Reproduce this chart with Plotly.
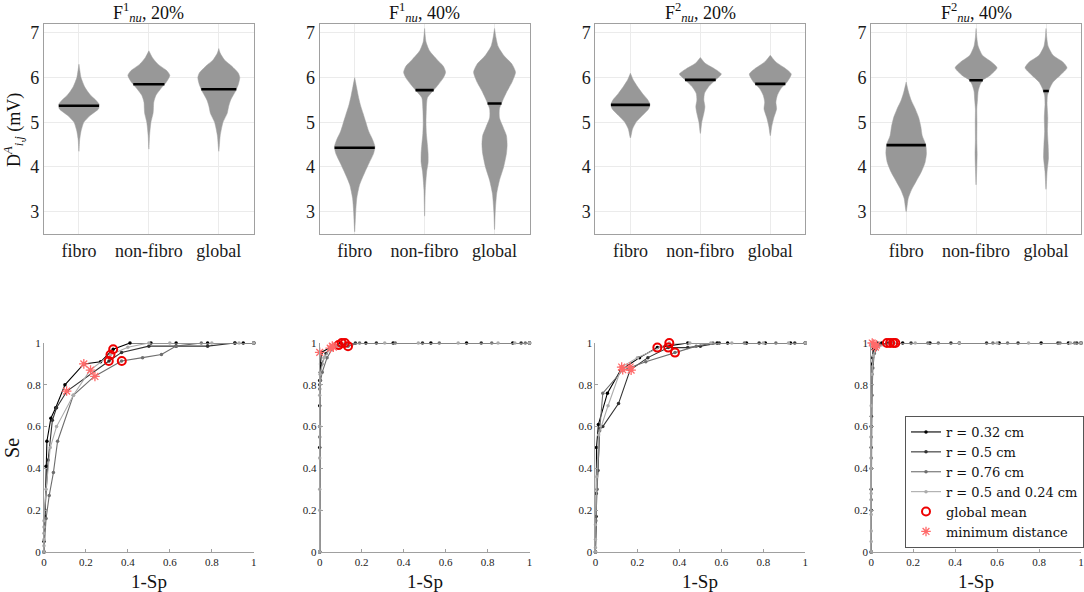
import numpy as np
import plotly.graph_objects as go
from plotly.subplots import make_subplots

W, H = 1084, 592

categories = ["fibro", "non-fibro", "global"]
titles = ["F<sup>1</sup><sub><i>nu</i></sub>, 20%", "F<sup>1</sup><sub><i>nu</i></sub>, 40%",
          "F<sup>2</sup><sub><i>nu</i></sub>, 20%", "F<sup>2</sup><sub><i>nu</i></sub>, 40%"]
series_names = ["r = 0.32 cm", "r = 0.5 cm", "r = 0.76 cm", "r = 0.5 and 0.24 cm"]
series_colors = ["#000000", "#333333", "#6e6e6e", "#ababab"]

# violin outlines: levels (mV) and half widths (category units)
# order in each list: fibro, non-fibro, global
f1_20_lev = [[4.35, 4.6, 4.8, 5.0, 5.15, 5.3, 5.4, 5.5, 5.6, 5.7, 5.8, 6.0, 6.3],
             [4.4, 4.7, 5.0, 5.2, 5.3, 5.45, 5.6, 5.75, 5.9, 6.05, 6.15, 6.3, 6.45, 6.6],
             [4.35, 4.7, 5.0, 5.2, 5.35, 5.5, 5.7, 5.85, 6.0, 6.1, 6.25, 6.4, 6.55, 6.65]]
f1_20_wid = [[0, 0.01, 0.03, 0.07, 0.16, 0.28, 0.29, 0.24, 0.17, 0.12, 0.08, 0.03, 0],
             [0, 0.01, 0.03, 0.06, 0.065, 0.07, 0.1, 0.17, 0.25, 0.3, 0.26, 0.13, 0.05, 0],
             [0, 0.02, 0.06, 0.12, 0.14, 0.17, 0.24, 0.28, 0.3, 0.28, 0.19, 0.08, 0.02, 0]]
f1_20_med = [5.37, 5.85, 5.74]

f1_40_lev = [[2.55, 3.0, 3.3, 3.6, 3.9, 4.1, 4.3, 4.45, 4.6, 4.8, 5.0, 5.2, 5.4, 5.6, 5.8, 6.0],
             [2.9, 3.5, 3.9, 4.1, 4.3, 4.5, 4.75, 5.0, 5.3, 5.55, 5.72, 5.85, 6.0, 6.12, 6.25, 6.4, 6.6, 6.8, 7.1],
             [2.6, 3.0, 3.4, 3.7, 4.0, 4.3, 4.5, 4.7, 4.9, 5.1, 5.3, 5.5, 5.7, 5.9, 6.12, 6.3, 6.5, 6.7, 6.9, 7.1]]
f1_40_wid = [[0, 0.015, 0.03, 0.07, 0.15, 0.21, 0.27, 0.29, 0.26, 0.2, 0.16, 0.12, 0.08, 0.05, 0.025, 0],
             [0, 0.01, 0.03, 0.05, 0.05, 0.04, 0.025, 0.02, 0.025, 0.04, 0.13, 0.2, 0.27, 0.3, 0.27, 0.18, 0.07, 0.02, 0],
             [0, 0.01, 0.03, 0.07, 0.13, 0.17, 0.18, 0.17, 0.12, 0.07, 0.07, 0.12, 0.18, 0.25, 0.3, 0.25, 0.13, 0.05, 0.02, 0]]
f1_40_med = [4.43, 5.72, 5.42]

f2_20_lev = [[4.65, 4.85, 5.0, 5.15, 5.3, 5.4, 5.5, 5.65, 5.8, 5.95, 6.1],
             [4.75, 5.0, 5.2, 5.35, 5.5, 5.65, 5.8, 5.95, 6.08, 6.2, 6.32, 6.45],
             [4.7, 4.9, 5.1, 5.3, 5.45, 5.6, 5.75, 5.9, 6.08, 6.2, 6.35, 6.5]]
f2_20_wid = [[0, 0.03, 0.08, 0.17, 0.26, 0.28, 0.25, 0.17, 0.1, 0.04, 0],
             [0, 0.02, 0.05, 0.065, 0.05, 0.06, 0.12, 0.22, 0.3, 0.2, 0.07, 0],
             [0, 0.02, 0.05, 0.09, 0.08, 0.1, 0.15, 0.24, 0.3, 0.22, 0.08, 0]]
f2_20_med = [5.39, 5.95, 5.86]

f2_40_lev = [[3.0, 3.3, 3.5, 3.7, 3.9, 4.1, 4.3, 4.5, 4.7, 4.9, 5.1, 5.3, 5.5, 5.7, 5.9],
             [3.6, 4.0, 4.3, 4.6, 5.0, 5.3, 5.5, 5.7, 5.85, 5.95, 6.05, 6.22, 6.35, 6.5, 6.7, 6.9, 7.1],
             [3.5, 3.9, 4.2, 4.5, 4.8, 5.1, 5.4, 5.6, 5.75, 5.9, 6.05, 6.22, 6.35, 6.5, 6.7, 6.9, 7.1]]
f2_40_wid = [[0, 0.03, 0.08, 0.15, 0.22, 0.27, 0.29, 0.28, 0.23, 0.21, 0.18, 0.13, 0.07, 0.03, 0],
             [0, 0.01, 0.015, 0.01, 0.012, 0.01, 0.02, 0.03, 0.06, 0.1, 0.2, 0.3, 0.22, 0.09, 0.03, 0.01, 0],
             [0, 0.015, 0.035, 0.03, 0.02, 0.025, 0.015, 0.02, 0.05, 0.1, 0.2, 0.3, 0.24, 0.1, 0.03, 0.01, 0]]
f2_40_med = [4.49, 5.94, 5.70]

violin_levels = [f1_20_lev, f1_40_lev, f2_20_lev, f2_40_lev]
violin_widths = [f1_20_wid, f1_40_wid, f2_20_wid, f2_40_wid]
violin_medians = [f1_20_med, f1_40_med, f2_20_med, f2_40_med]

# ROC curves (1-Sp, Se), one list per radius
roc1_x = [[0, 0, 0.005, 0.01, 0.014, 0.033, 0.056, 0.10, 0.19, 0.27, 0.33, 0.41, 0.51, 0.63, 0.78, 0.91, 0.95, 1.0],
          [0, 0.005, 0.02, 0.04, 0.06, 0.11, 0.31, 0.37, 0.5, 0.63, 0.78, 0.91, 1.0],
          [0, 0.01, 0.025, 0.045, 0.065, 0.14, 0.24, 0.37, 0.47, 0.56, 0.63, 0.75, 1.0],
          [0, 0, 0, 0, 0, 0, 0.01, 0.03, 0.06, 0.14, 0.22, 0.317, 0.40, 0.5, 0.6, 0.8, 0.93, 1.0]]
roc1_y = [[0, 0.05, 0.17, 0.41, 0.53, 0.64, 0.69, 0.80, 0.90, 0.91, 0.97, 1.0, 1.0, 1.0, 1.0, 1.0, 1.0, 1.0],
          [0, 0.2, 0.44, 0.63, 0.69, 0.77, 0.914, 0.955, 0.985, 0.985, 0.985, 1.0, 1.0],
          [0, 0.16, 0.27, 0.38, 0.53, 0.75, 0.84, 0.914, 0.93, 0.945, 0.985, 1.0, 1.0],
          [0, 0.03, 0.06, 0.09, 0.12, 0.15, 0.3, 0.5, 0.6, 0.75, 0.87, 0.944, 0.98, 1.0, 1.0, 1.0, 1.0, 1.0]]
roc1_mean_x = [0.33, 0.317, 0.309, 0.371]
roc1_mean_y = [0.97, 0.944, 0.914, 0.914]
roc1_min_x = [0.19, 0.108, 0.222, 0.243]
roc1_min_y = [0.90, 0.77, 0.87, 0.84]

roc2_x = [[0, 0, 0, 0, 0.004, 0.008, 0.06, 0.10, 0.22, 0.35, 0.53, 0.70, 0.92, 1.0],
          [0, 0, 0, 0.003, 0.01, 0.03, 0.05, 0.09, 0.17, 0.27, 0.49, 0.77, 0.96, 1.0],
          [0, 0, 0, 0.004, 0.012, 0.035, 0.065, 0.135, 0.19, 0.36, 0.57, 0.82, 0.98, 1.0],
          [0, 0, 0, 0, 0, 0, 0.002, 0.02, 0.06, 0.12, 0.31, 0.47, 0.66, 0.85, 0.93, 1.0]]
roc2_y = [[0, 0.5, 0.7, 0.82, 0.9, 0.955, 0.985, 1, 1, 1, 1, 1, 1, 1],
          [0, 0.6, 0.8, 0.86, 0.9, 0.95, 0.975, 0.99, 1, 1, 1, 1, 1, 1],
          [0, 0.55, 0.78, 0.82, 0.86, 0.93, 0.98, 0.985, 1, 1, 1, 1, 1, 1],
          [0, 0.2, 0.3, 0.45, 0.6, 0.75, 0.85, 0.93, 0.985, 1, 1, 1, 1, 1, 1, 1]]
roc2_mean_x = [0.09, 0.105, 0.12, 0.135]
roc2_mean_y = [0.99, 1.0, 1.0, 0.985]
roc2_min_x = [0.0, 0.05, 0.06, 0.065]
roc2_min_y = [0.955, 0.975, 0.985, 0.98]

roc3_x = [[0, 0.003, 0.005, 0.014, 0.057, 0.12, 0.21, 0.295, 0.44, 0.58, 0.63, 0.72, 0.81, 0.93, 1.0],
          [0, 0.004, 0.012, 0.02, 0.035, 0.11, 0.165, 0.25, 0.347, 0.44, 0.5, 0.59, 0.78, 0.95, 1.0],
          [0, 0.002, 0.008, 0.02, 0.035, 0.13, 0.24, 0.379, 0.48, 0.56, 0.71, 0.86, 1.0],
          [0, 0, 0, 0, 0.006, 0.015, 0.06, 0.125, 0.2, 0.352, 0.45, 0.55, 0.65, 0.8, 0.92, 1.0]]
roc3_y = [[0, 0.17, 0.5, 0.61, 0.76, 0.87, 0.93, 0.978, 1, 1, 1, 1, 1, 1, 1],
          [0, 0.28, 0.39, 0.59, 0.6, 0.71, 0.87, 0.93, 0.978, 0.978, 0.985, 1, 1, 1, 1],
          [0, 0.15, 0.3, 0.58, 0.76, 0.87, 0.91, 0.954, 0.985, 1, 1, 1, 1],
          [0, 0.02, 0.06, 0.13, 0.36, 0.56, 0.7, 0.885, 0.93, 1.0, 1, 1, 1, 1, 1, 1]]
roc3_mean_x = [0.295, 0.352, 0.347, 0.379]
roc3_mean_y = [0.978, 1.0, 0.978, 0.954]
roc3_min_x = [0.125, 0.13, 0.165, 0.17]
roc3_min_y = [0.885, 0.872, 0.885, 0.87]

roc4_x = [[0, 0, 0, 0, 0.002, 0.005, 0.01, 0.02, 0.05, 0.15, 0.28, 0.42, 0.61, 0.81, 0.94, 1.0],
          [0, 0, 0, 0.001, 0.003, 0.006, 0.012, 0.03, 0.08, 0.19, 0.38, 0.55, 0.70, 0.89, 0.98, 1.0],
          [0, 0, 0, 0, 0.004, 0.008, 0.015, 0.04, 0.1, 0.27, 0.32, 0.58, 0.65, 0.90, 0.97, 1.0],
          [0, 0, 0, 0, 0, 0, 0, 0.003, 0.01, 0.025, 0.11, 0.21, 0.42, 0.60, 0.75, 0.95, 1.0]]
roc4_y = [[0, 0.2, 0.4, 0.6, 0.8, 0.9, 0.97, 0.99, 1, 1, 1, 1, 1, 1, 1, 1],
          [0, 0.3, 0.5, 0.65, 0.85, 0.93, 0.98, 1, 1, 1, 1, 1, 1, 1, 1, 1],
          [0, 0.25, 0.45, 0.55, 0.75, 0.88, 0.95, 0.99, 1, 1, 1, 1, 1, 1, 1, 1],
          [0, 0.05, 0.1, 0.18, 0.28, 0.4, 0.7, 0.85, 0.94, 0.98, 1, 1, 1, 1, 1, 1, 1]]
roc4_mean_x = [0.075, 0.09, 0.105, 0.115]
roc4_mean_y = [1.0, 1.0, 1.0, 1.0]
roc4_min_x = [0.005, 0.012, 0.02, 0.025]
roc4_min_y = [1.0, 0.995, 0.98, 0.99]

roc_x = [roc1_x, roc2_x, roc3_x, roc4_x]
roc_y = [roc1_y, roc2_y, roc3_y, roc4_y]
mean_x = [roc1_mean_x, roc2_mean_x, roc3_mean_x, roc4_mean_x]
mean_y = [roc1_mean_y, roc2_mean_y, roc3_mean_y, roc4_mean_y]
min_x = [roc1_min_x, roc2_min_x, roc3_min_x, roc4_min_x]
min_y = [roc1_min_y, roc2_min_y, roc3_min_y, roc4_min_y]

FONT = "Liberation Serif"


def px_x(p):
    return p / W


def px_y(p):
    return 1 - p / H


fig = make_subplots(rows=2, cols=4)

# pixel layout of the axes boxes
lefts = [44, 320, 596, 872]
pw = 210
top_row = (24, 234)
bot_row = (343, 552)

for k in range(4):
    # violins
    for c in range(3):
        lev = np.array(violin_levels[k][c])
        wid = np.array(violin_widths[k][c])
        pos = c + 1
        fig.add_trace(go.Scatter(
            x=np.concatenate([pos + wid, (pos - wid)[::-1]]),
            y=np.concatenate([lev, lev[::-1]]),
            fill="toself", fillcolor="rgb(152,152,152)",
            line=dict(color="rgb(160,160,160)", width=0.5, shape="spline", smoothing=0.6),
            mode="lines", showlegend=False, hoverinfo="skip"), row=1, col=k + 1)
        m = violin_medians[k][c]
        hw = float(np.interp(m, lev, wid))
        fig.add_trace(go.Scatter(x=[pos - hw, pos + hw], y=[m, m], mode="lines",
                                 line=dict(color="black", width=2.6),
                                 showlegend=False), row=1, col=k + 1)

    # ROC
    show = (k == 3)
    for s in range(4):
        fig.add_trace(go.Scatter(
            x=roc_x[k][s], y=roc_y[k][s], mode="lines+markers", name=series_names[s],
            line=dict(color=series_colors[s], width=1.1),
            marker=dict(color=series_colors[s], size=3.5),
            cliponaxis=False, showlegend=show), row=2, col=k + 1)
    fig.add_trace(go.Scatter(
        x=mean_x[k], y=mean_y[k], mode="markers", name="global mean",
        marker=dict(symbol="circle-open", color="#ee0000", size=8, line=dict(width=2)),
        cliponaxis=False, showlegend=show), row=2, col=k + 1)
    fig.add_trace(go.Scatter(
        x=min_x[k], y=min_y[k], mode="markers", name="minimum distance",
        marker=dict(symbol="asterisk-open", color="#ff6a6a", size=8, line=dict(width=1.3, color="#ff6a6a")),
        cliponaxis=False, showlegend=show), row=2, col=k + 1)

layout = {}
for k in range(4):
    xd = [px_x(lefts[k]), px_x(lefts[k] + pw)]
    # top row axes
    layout[f"xaxis{k + 1}"] = dict(
        domain=xd, range=[0.5, 3.5], tickvals=[1, 2, 3], ticktext=categories,
        showgrid=True, gridcolor="#ebebeb", showline=True, mirror=True,
        linecolor="#a0a0a0", linewidth=1, zeroline=False, ticks="", automargin=False,
        tickfont=dict(family=FONT, size=18, color="#1a1a1a"))
    layout[f"yaxis{k + 1}"] = dict(
        domain=[px_y(top_row[1]), px_y(top_row[0])], range=[2.5, 7.2],
        tickvals=[3, 4, 5, 6, 7], showgrid=True, gridcolor="#ebebeb",
        showline=True, mirror=True, linecolor="#a0a0a0", linewidth=1, automargin=False,
        zeroline=False, ticks="", tickfont=dict(family=FONT, size=18, color="#1a1a1a"))
    # bottom row axes
    layout[f"xaxis{k + 5}"] = dict(
        domain=xd, range=[0, 1], tickvals=[0, 0.2, 0.4, 0.6, 0.8, 1],
        showgrid=False, zeroline=False, showline=True, linecolor="#a0a0a0",
        ticks="inside", ticklen=3, tickcolor="#a0a0a0", automargin=False,
        tickfont=dict(family=FONT, size=11, color="#222"))
    layout[f"yaxis{k + 5}"] = dict(
        domain=[px_y(bot_row[1]), px_y(bot_row[0])], range=[0, 1],
        tickvals=[0, 0.2, 0.4, 0.6, 0.8, 1], showgrid=False, zeroline=False,
        showline=True, linecolor="#a0a0a0", ticks="inside", ticklen=3, automargin=False,
        tickcolor="#a0a0a0", tickfont=dict(family=FONT, size=11, color="#222"))

annotations = []
for k in range(4):
    cx = px_x(lefts[k] + pw / 2)
    annotations.append(dict(text=titles[k], x=cx, y=px_y(13), xref="paper", yref="paper",
                            xanchor="center", yanchor="middle", showarrow=False,
                            font=dict(family=FONT, size=18, color="#111")))
    annotations.append(dict(text="1-Sp", x=cx, y=px_y(581), xref="paper", yref="paper",
                            xanchor="center", yanchor="middle", showarrow=False,
                            font=dict(family=FONT, size=19, color="#111")))
annotations.append(dict(text="D<sup><i>A</i></sup><sub><i>i,j</i></sub> (mV)", x=px_x(13), y=px_y(130),
                        xref="paper", yref="paper", textangle=-90, showarrow=False,
                        xanchor="center", yanchor="middle",
                        font=dict(family=FONT, size=18, color="#111")))
annotations.append(dict(text="Se", x=px_x(12), y=px_y(448), xref="paper", yref="paper",
                        textangle=-90, showarrow=False, xanchor="center", yanchor="middle",
                        font=dict(family=FONT, size=20, color="#111")))

fig.update_layout(
    width=W, height=H, margin=dict(l=0, r=0, t=0, b=0),
    paper_bgcolor="white", plot_bgcolor="white",
    annotations=annotations,
    legend=dict(x=px_x(906), y=px_y(548), xanchor="left", yanchor="bottom",
                bordercolor="#555", borderwidth=1, bgcolor="white",
                font=dict(family="DejaVu Serif", size=13, color="#111"), tracegroupgap=0,
                itemwidth=30),
    **layout)

# drop the default page margin so the figure sits at the window corner
fig.write_html("out.html", config={"displayModeBar": False},
               post_script="document.body.style.margin='0px';")
